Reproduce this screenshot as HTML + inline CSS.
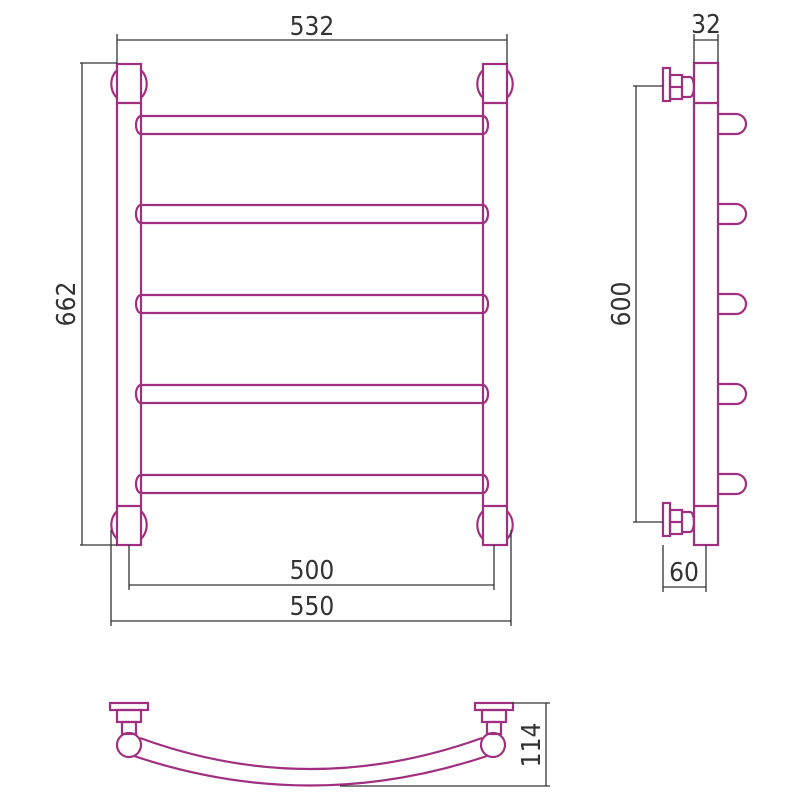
<!DOCTYPE html>
<html><head><style>body{margin:0;background:#fff}svg{display:block}</style></head><body>
<svg width="800" height="800" viewBox="0 0 800 800" xmlns="http://www.w3.org/2000/svg">
<g fill="none" stroke="#a0307f" stroke-width="2.2">
<!-- front posts -->
<rect x="117" y="64" width="24" height="481"/>
<rect x="483" y="64" width="24" height="481"/>
<line x1="117" y1="103" x2="141" y2="103"/><line x1="117" y1="506" x2="141" y2="506"/>
<line x1="483" y1="103" x2="507" y2="103"/><line x1="483" y1="506" x2="507" y2="506"/>
<path d="M117 70 A20 20 0 0 0 117 98 M141 70 A20 20 0 0 1 141 98"/>
<path d="M117 511 A20 20 0 0 0 117 539 M141 511 A20 20 0 0 1 141 539"/>
<path d="M483 70 A20 20 0 0 0 483 98 M507 70 A20 20 0 0 1 507 98"/>
<path d="M483 511 A20 20 0 0 0 483 539 M507 511 A20 20 0 0 1 507 539"/>
<!-- rungs -->
<g id="r">
<path d="M141 116 L483 116 M141 134 L483 134 M141 116 A5 9 0 0 0 141 134 M483 116 A5 9 0 0 1 483 134"/>
</g>
<use href="#r" y="89"/><use href="#r" y="179"/><use href="#r" y="269"/><use href="#r" y="359"/>
<!-- side view -->
<rect x="694" y="63" width="24" height="482"/>
<line x1="694" y1="103" x2="718" y2="103"/><line x1="694" y1="506" x2="718" y2="506"/>
<g id="h"><path d="M718 114 L736 114 A10 10 0 0 1 736 134 L718 134"/></g>
<use href="#h" y="90"/><use href="#h" y="180"/><use href="#h" y="270"/><use href="#h" y="360"/>
<g id="v">
<rect x="663" y="68" width="7" height="33"/>
<rect x="670" y="75" width="12" height="24"/><line x1="670" y1="87" x2="682" y2="87"/>
<path d="M682 77 L690 77 A4 10 0 0 1 690 97 L682 97"/>
</g>
<use href="#v" y="435"/>
<!-- bottom view -->
<rect x="110" y="703" width="38" height="7"/><rect x="117" y="710" width="24" height="12"/><rect x="122" y="722" width="14" height="12"/>
<circle cx="129" cy="745" r="12"/>
<rect x="475" y="703" width="38" height="7"/><rect x="482" y="710" width="24" height="12"/><rect x="487" y="722" width="14" height="12"/>
<circle cx="493" cy="745" r="12"/>
<path d="M140 738 Q310 800 482 738"/>
<path d="M134 756 Q310 815 487 756"/>
</g>
<g stroke="#333" stroke-width="1.3" fill="none">
<path d="M117 64 V34 M507 64 V34 M117 40 H507"/>
<path d="M80 63 H117 M80 545 H117 M82 63 V545"/>
<path d="M129 545 V590 M494 545 V590 M129 585 H494"/>
<path d="M111 530 V626 M511 530 V626 M111 621 H511"/>
<path d="M694 63 V34 M718 63 V34 M694 40 H718"/>
<path d="M633 86 H663 M633 522 H663 M636 86 V522"/>
<path d="M663 545 V592 M706 545 V592 M663 587 H706"/>
<path d="M512 703 H550 M340 786 H550 M546 703 V786"/>
</g>
<g font-family="'DejaVu Sans Condensed','Liberation Sans',sans-serif" font-size="26" fill="#333" text-anchor="middle">
<text x="312" y="35">532</text>
<text x="706" y="33">32</text>
<text x="312" y="579">500</text>
<text x="312" y="615">550</text>
<text x="684" y="581">60</text>
<text transform="translate(75 304) rotate(-90)">662</text>
<text transform="translate(630 304) rotate(-90)">600</text>
<text transform="translate(540 745) rotate(-90)">114</text>
</g>
</svg>
</body></html>
